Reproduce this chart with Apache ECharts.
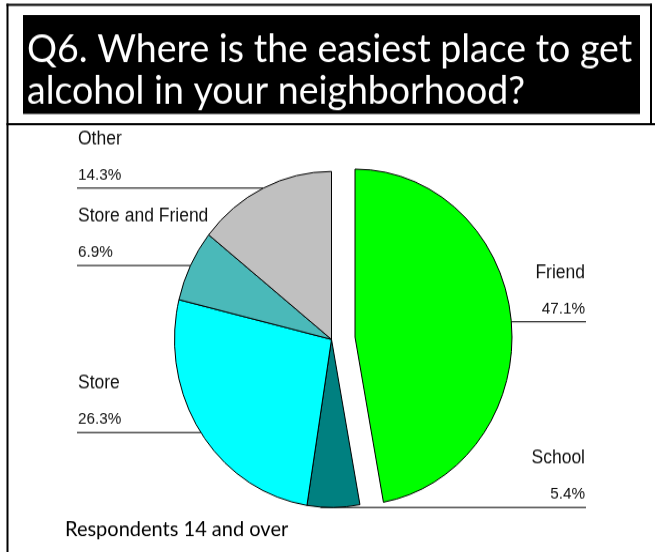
<!DOCTYPE html>
<html>
<head>
<meta charset="utf-8">
<script src="https://cdn.jsdelivr.net/npm/echarts@6/dist/echarts.min.js"></script>
<style>
  html, body { margin: 0; padding: 0; background: #fff; }
  #frame { width: 655px; height: 552px; overflow: hidden; position: relative; background: #fff; }
  /* the whole figure is drawn slightly taller than wide */
  #chart { width: 655px; height: 516px; transform: scaleY(1.07); transform-origin: 0 0; }
</style>
</head>
<body>
<div id="frame"><div id="chart"></div></div>
<script>
// Survey answers (percent of respondents)
const categories = ['Friend', 'School', 'Store', 'Store and Friend', 'Other'];
const shares = [47.1, 5.4, 26.3, 6.9, 14.3];
const sliceColors = ['#00FF00', '#008080', '#00FFFF', '#4AB9B9', '#C0C0C0'];
const explodedCategory = 'Friend';

const titleLines = ['Q6. Where is the easiest place to get', 'alcohol in your neighborhood?'];
const footnote = 'Respondents 14 and over';

const chart = echarts.init(document.getElementById('chart'), null, { renderer: 'canvas' });

const PIE_CENTER = [331.5, 317.2];
const PIE_RADIUS = 157;
const EXPLODE_SHIFT = [23.5, -2.2];
const LEFT_TEXT_X = 78, RIGHT_TEXT_X = 585;
const LABEL_FONT = 'Liberation Sans, Arial, sans-serif';

const hiddenItem = {
  itemStyle: { color: 'rgba(0,0,0,0)', borderWidth: 0 },
  label: { show: false },
  labelLine: { show: false }
};

function buildData(showExploded) {
  return categories.map((name, i) => {
    const item = { name: name, value: shares[i], itemStyle: { color: sliceColors[i] } };
    const isExploded = name === explodedCategory;
    return isExploded === showExploded ? item : Object.assign({ name: name, value: shares[i] }, hiddenItem);
  });
}

// Put the two text lines above a horizontal leader drawn from the slice edge
function layoutLabel(params) {
  const pts = params.labelLinePoints;
  if (!pts) return {};
  const p0 = pts[0];
  const cx = params.seriesIndex === 1 ? PIE_CENTER[0] + EXPLODE_SHIFT[0] : PIE_CENTER[0];
  const isLeft = p0[0] < cx;
  const endX = isLeft ? LEFT_TEXT_X - 1 : RIGHT_TEXT_X + 1;
  // the bottom leader starts a little inside the slice edge
  const startX = Math.abs(p0[0] - cx) < 20 ? p0[0] - 13 : p0[0];
  return {
    x: isLeft ? LEFT_TEXT_X : RIGHT_TEXT_X,
    y: p0[1],
    align: isLeft ? 'left' : 'right',
    verticalAlign: 'bottom',
    labelLinePoints: [[startX, p0[1]], [startX, p0[1]], [endX, p0[1]]]
  };
}

function pieSeries(center, showExploded) {
  return {
    type: 'pie',
    center: center,
    radius: PIE_RADIUS,
    startAngle: 90,
    clockwise: true,
    avoidLabelOverlap: false,
    silent: true,
    emphasis: { disabled: true },
    itemStyle: { borderColor: '#000', borderWidth: 1 },
    label: {
      show: true,
      position: 'outside',
      formatter: p => '{n|' + p.name + '}\n{v|' + p.value.toFixed(1) + '%}',
      rich: {
        n: { fontFamily: LABEL_FONT, fontSize: 17.5, lineHeight: 43.4, color: '#111' },
        v: { fontFamily: LABEL_FONT, fontSize: 15.3, lineHeight: 24, color: '#111' }
      }
    },
    labelLine: { show: true, length: 0, length2: 0, smooth: false, lineStyle: { color: '#000', width: 1 } },
    labelLayout: layoutLabel,
    data: buildData(showExploded)
  };
}

const option = {
  backgroundColor: '#fff',
  animation: false,
  title: [
    {
      text: titleLines.join('\n'),
      left: 27,
      top: 26.5,
      padding: 0,
      textStyle: { color: '#fff', fontFamily: 'Lato, sans-serif', fontWeight: 'normal', fontSize: 37.5, lineHeight: 39 }
    },
    {
      text: footnote,
      left: 65,
      top: 483,
      padding: 0,
      textStyle: { color: '#000', fontFamily: 'Lato, sans-serif', fontWeight: 'normal', fontSize: 20, lineHeight: 24 }
    }
  ],
  graphic: [
    { type: 'rect', z: -1, shape: { x: 23, y: 14, width: 617, height: 92.5 }, style: { fill: '#000' } },
    { type: 'line', shape: { x1: 6.5, y1: 4.4, x2: 652, y2: 4.4 }, style: { stroke: '#000', lineWidth: 2 } },
    { type: 'line', shape: { x1: 7.5, y1: 3.5, x2: 7.5, y2: 520 }, style: { stroke: '#000', lineWidth: 2 } },
    { type: 'line', shape: { x1: 651, y1: 3.5, x2: 651, y2: 116 }, style: { stroke: '#000', lineWidth: 2 } },
    { type: 'line', shape: { x1: 6.5, y1: 116, x2: 655, y2: 116 }, style: { stroke: '#000', lineWidth: 2 } }
  ],
  series: [
    pieSeries(PIE_CENTER, false),
    pieSeries([PIE_CENTER[0] + EXPLODE_SHIFT[0], PIE_CENTER[1] + EXPLODE_SHIFT[1]], true)
  ]
};

chart.setOption(option);
</script>
</body>
</html>
